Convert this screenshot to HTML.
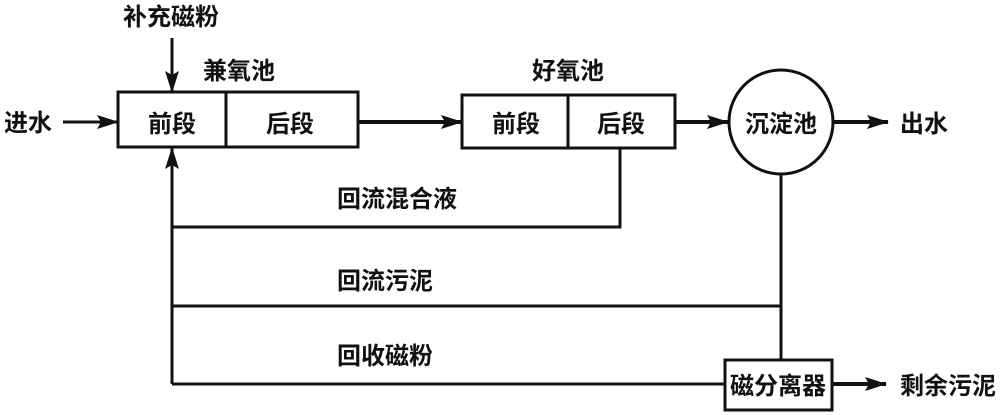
<!DOCTYPE html>
<html><head><meta charset="utf-8"><style>
html,body{margin:0;padding:0;background:#fff;width:1000px;height:415px;overflow:hidden}
svg text{font-family:"Liberation Sans","Noto Sans CJK SC",sans-serif;font-weight:bold;font-size:24px;fill:#111}
</style></head><body>
<svg width="1000" height="415" viewBox="0 0 1000 415" xmlns="http://www.w3.org/2000/svg">
<defs>
<marker id="b" markerWidth="22" markerHeight="14" refX="21" refY="7" orient="auto" markerUnits="userSpaceOnUse"><path d="M0,0 L22,7 L0,14 L4,7 z" fill="#111"/></marker></defs>
<g stroke="#111" fill="none" stroke-width="3">
<rect x="118" y="92" width="240" height="55"/>
<line x1="226" y1="92" x2="226" y2="147"/>
<rect x="462" y="95" width="213" height="53"/>
<line x1="568" y1="95" x2="568" y2="148"/>
<circle cx="781" cy="122" r="52"/>
<rect x="725" y="360" width="107" height="50"/>
<line x1="63" y1="122" x2="118" y2="122" marker-end="url(#b)"/>
<line x1="172" y1="38" x2="172" y2="92" marker-end="url(#b)"/>
<line x1="358" y1="122" x2="462" y2="122" marker-end="url(#b)" stroke-width="4"/>
<line x1="675" y1="122" x2="728" y2="122" marker-end="url(#b)" stroke-width="4"/>
<line x1="833" y1="122" x2="888" y2="122" marker-end="url(#b)" stroke-width="4"/>
<line x1="832" y1="384" x2="886" y2="384" marker-end="url(#b)" stroke-width="4"/>
<line x1="172" y1="384" x2="172" y2="148" marker-end="url(#b)"/>
<polyline points="620,148 620,227 172,227"/>
<line x1="172" y1="306" x2="781" y2="306"/>
<line x1="781" y1="174" x2="781" y2="360"/>
<line x1="172" y1="384" x2="725" y2="384"/>
</g>
<text x="4" y="131">进水</text>
<text x="123" y="25">补充磁粉</text>
<text x="203" y="79">兼氧池</text>
<text x="148" y="132">前段</text>
<text x="266" y="132">后段</text>
<text x="532" y="79">好氧池</text>
<text x="492" y="132">前段</text>
<text x="597" y="132">后段</text>
<text x="745" y="132">沉淀池</text>
<text x="900" y="132">出水</text>
<text x="337" y="207">回流混合液</text>
<text x="337" y="289">回流污泥</text>
<text x="337" y="364">回收磁粉</text>
<text x="730" y="394">磁分离器</text>
<text x="900" y="394">剩余污泥</text>
</svg>
</body></html>
